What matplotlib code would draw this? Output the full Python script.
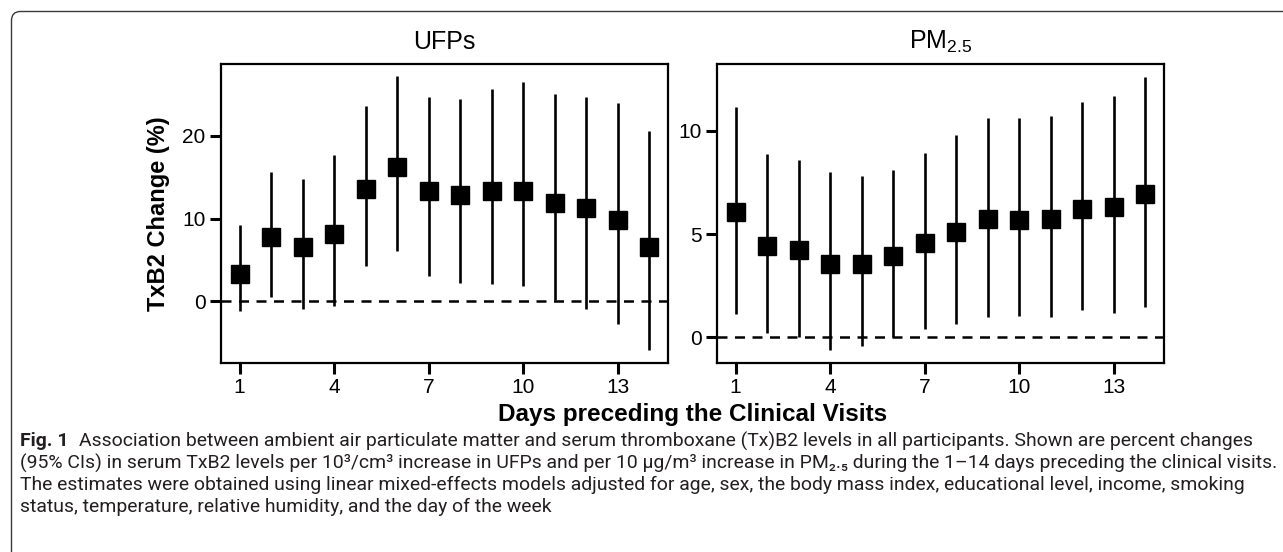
import matplotlib
matplotlib.use("Agg")
import matplotlib.pyplot as plt
from matplotlib.patches import FancyBboxPatch
import numpy as np

# ---------------- data ----------------
days = [1, 2, 3, 4, 5, 6, 7, 8, 9, 10, 11, 12, 13, 14]

ufp_est = [3.3, 7.8, 6.6, 8.1, 13.6, 16.2, 13.4, 12.9, 13.3, 13.4, 11.9, 11.3, 9.9, 6.6]
ufp_lo = [-1.2, 0.5, -0.9, -0.6, 4.3, 6.1, 3.1, 2.2, 2.1, 1.9, 0.2, -0.9, -2.7, -5.9]
ufp_hi = [9.3, 15.7, 14.8, 17.7, 23.6, 27.3, 24.7, 24.5, 25.7, 26.5, 25.1, 24.7, 24.0, 20.6]

pm_est = [6.05, 4.44, 4.21, 3.56, 3.56, 3.94, 4.58, 5.11, 5.71, 5.69, 5.74, 6.23, 6.29, 6.94]
pm_lo = [1.13, 0.23, 0.0, -0.61, -0.42, 0.0, 0.40, 0.63, 0.98, 1.05, 1.0, 1.34, 1.16, 1.48]
pm_hi = [11.16, 8.85, 8.58, 7.98, 7.79, 8.10, 8.90, 9.79, 10.63, 10.63, 10.71, 11.40, 11.68, 12.61]

xticks = [1, 4, 7, 10, 13]
ufp_yticks = [0, 10, 20]
pm_yticks = [0, 5, 10]

titles = ["UFPs", r"PM$_{2.5}$"]
ylabel = "TxB2 Change (%)"
xlabel = "Days preceding the Clinical Visits"

caption_bold = "Fig. 1"
caption_lines = [
    "Association between ambient air particulate matter and serum thromboxane (Tx)B2 levels in all participants. Shown are percent changes",
    "(95% CIs) in serum TxB2 levels per 10\u00b3/cm\u00b3 increase in UFPs and per 10 \u00b5g/m\u00b3 increase in PM\u2082.\u2085 during the 1\u201314 days preceding the clinical visits.",
    "The estimates were obtained using linear mixed-effects models adjusted for age, sex, the body mass index, educational level, income, smoking",
    "status, temperature, relative humidity, and the day of the week",
]

# ---------------- style ----------------
plt.rcParams['font.family'] = ['Liberation Sans', 'DejaVu Sans']
plt.rcParams['mathtext.fontset'] = 'custom'
plt.rcParams['mathtext.rm'] = 'Liberation Sans'
plt.rcParams['mathtext.it'] = 'Liberation Sans:italic'
plt.rcParams['mathtext.bf'] = 'Liberation Sans:bold'

W, H = 1283, 552
fig = plt.figure(figsize=(W / 100, H / 100), dpi=100)

# outer frame with rounded top-left corner
frame = FancyBboxPatch((11.5 / 100, -1.0), 20.0, (H - 11.5) / 100 + 1.0,
                       boxstyle="round,pad=0,rounding_size=0.09",
                       transform=fig.dpi_scale_trans, fill=False,
                       edgecolor='#3a3a3a', linewidth=1.0)
fig.patches.append(frame)

def px_axes(x0, x1, y0, y1):
    return [x0 / W, 1 - y1 / H, (x1 - x0) / W, (y1 - y0) / H]

ax1 = fig.add_axes(px_axes(220.7, 668, 64, 362.7))
ax2 = fig.add_axes(px_axes(716.7, 1164, 64, 362.7))

def draw(ax, est, lo, hi, ylim, yticks, title):
    est = np.array(est); lo = np.array(lo); hi = np.array(hi)
    ax.axhline(0, color='black', lw=1.8, ls=(0, (4.0, 3.0)), zorder=1)
    ax.errorbar(days, est, yerr=[est - lo, hi - est], fmt='s', color='black',
                ms=13, elinewidth=1.9, capsize=0, zorder=3)
    ax.set_xlim(0.4, 14.6)
    ax.set_ylim(*ylim)
    ax.set_xticks(xticks)
    ax.set_yticks(yticks)
    for s in ax.spines.values():
        s.set_linewidth(1.6)
    ax.tick_params(direction='out', length=8, width=2.2, labelsize=15, pad=3)
    ax.set_title(title, fontsize=18, pad=11)

draw(ax1, ufp_est, ufp_lo, ufp_hi, (-7.4, 28.7), ufp_yticks, titles[0])
draw(ax2, pm_est, pm_lo, pm_hi, (-1.23, 13.23), pm_yticks, titles[1])

ax1.set_ylabel(ylabel, fontsize=17, fontweight='bold', labelpad=9)
fig.text(693 / W, 1 - 415 / H, xlabel, fontsize=17.5, fontweight='bold',
         ha='center', va='center')

# caption
cap_family = ['Roboto', 'Lato', 'DejaVu Sans']
cap_color = '#231f20'
renderer = fig.canvas.get_renderer()
x_start = 20 / W
target_right = 1246
line_y = [441, 463, 485, 507]

fs = 12.0
tb = fig.text(x_start, 1 - line_y[0] / H, caption_bold, fontsize=fs,
              fontweight='bold', family=cap_family, va='center', color=cap_color)
bb = tb.get_window_extent(renderer)
gap = 9
t1 = fig.text((bb.x1 + gap) / W, 1 - line_y[0] / H, caption_lines[0], fontsize=fs,
              family=cap_family, va='center', color=cap_color)
b1 = t1.get_window_extent(renderer)
# scale font size so the first caption line spans the same width as the original
scale = (target_right - 20) / (b1.x1 - bb.x0)
fs2 = fs * scale
tb.set_fontsize(fs2)
bb = tb.get_window_extent(renderer)
t1.set_fontsize(fs2)
t1.set_x((bb.x1 + gap * scale) / W)
for ln, yy in zip(caption_lines[1:], line_y[1:]):
    fig.text(x_start, 1 - yy / H, ln, fontsize=fs2, family=cap_family,
             va='center', color=cap_color)

fig.savefig("out.png", dpi=100)
